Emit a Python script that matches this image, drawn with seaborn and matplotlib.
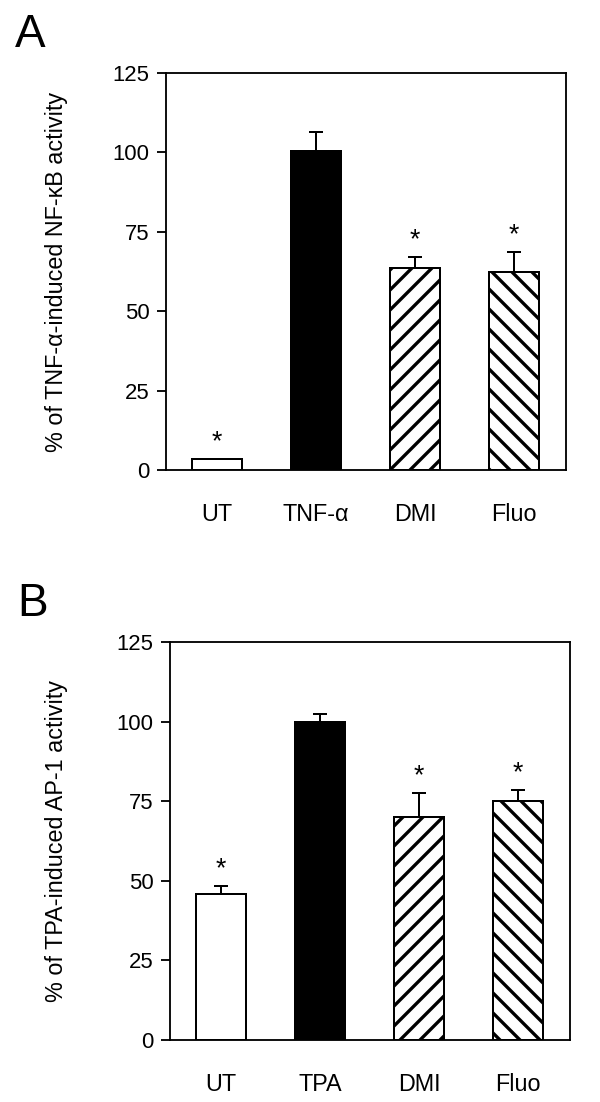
import numpy as np
import pandas as pd
import seaborn as sns
import matplotlib.pyplot as plt

sns.set_style('white')
plt.rcParams['font.family'] = ['Liberation Sans', 'DejaVu Sans']
plt.rcParams['hatch.linewidth'] = 4.0
plt.rcParams['hatch.color'] = 'black'

# panel A: NF-kB
labels_a = ['UT', 'TNF-α', 'DMI', 'Fluo']
values_a = [3.5, 100.5, 63.5, 62.3]
errors_a = [0.0, 6.0, 3.6, 6.3]
stars_a = [True, False, True, True]

# panel B: AP-1
labels_b = ['UT', 'TPA', 'DMI', 'Fluo']
values_b = [46.0, 100.0, 70.0, 75.0]
errors_b = [2.3, 2.3, 7.5, 3.6]
stars_b = [True, False, True, True]

fills = ['white', 'black', 'white', 'white']
hatches = ['', '', '/', '\\']

# dpi 60 so one hatch step is ~10 px, like the original
DPI = 60
fig = plt.figure(figsize=(600 / DPI, 1102 / DPI), dpi=DPI)
ax_a = fig.add_axes([0.2767, 0.5735, 0.6667, 0.3603])
ax_b = fig.add_axes([0.2833, 0.0563, 0.6667, 0.3611])


def draw_panel(ax, labels, values, errors, stars, ylabel, letter, lx, lpos):
    df = pd.DataFrame({'group': labels, 'value': values})
    sns.barplot(data=df, x='group', y='value', hue='group', palette=fills,
                order=labels, hue_order=labels, width=0.5, errorbar=None,
                edgecolor='black', linewidth=2.4, legend=False, ax=ax, zorder=3)
    for patch, h in zip(ax.patches, hatches):
        patch.set_hatch(h)
    x = np.arange(len(labels))
    err = np.array(errors)
    ax.errorbar(x, values, yerr=[np.zeros_like(err), err], fmt='none',
                ecolor='black', elinewidth=2.4, capsize=8, capthick=2.4,
                zorder=2)
    for xi, v, e, s in zip(x, values, errors, stars):
        if s:
            ax.text(xi, v + e + 1.2, '*', ha='center', va='bottom',
                    fontsize=32, color='black')
    ax.set_xlim(-0.515, 3.525)
    ax.set_ylim(0, 125)
    ax.set_yticks([0, 25, 50, 75, 100, 125])
    ax.tick_params(axis='y', left=True, direction='out', length=10.8,
                   width=2.2, labelsize=26.5, pad=9, colors='black')
    ax.tick_params(axis='x', bottom=False, labelsize=28, pad=36,
                   colors='black')
    for sp in ax.spines.values():
        sp.set_visible(True)
        sp.set_color('black')
        sp.set_linewidth(2.2)
    ax.set_xlabel('')
    ax.set_ylabel(ylabel, fontsize=28, color='black')
    ax.yaxis.set_label_coords(lx, 0.5)
    ax.text(lpos[0], lpos[1], letter, transform=ax.transAxes, fontsize=55,
            ha='left', va='center', color='black')


draw_panel(ax_a, labels_a, values_a, errors_a, stars_a,
           '% of TNF-α-induced NF-κB activity', 'A', -0.245, (-0.378, 1.096))
draw_panel(ax_b, labels_b, values_b, errors_b, stars_b,
           '% of TPA-induced AP-1 activity', 'B', -0.255, (-0.383, 1.095))

fig.savefig('out.png', dpi=DPI)
